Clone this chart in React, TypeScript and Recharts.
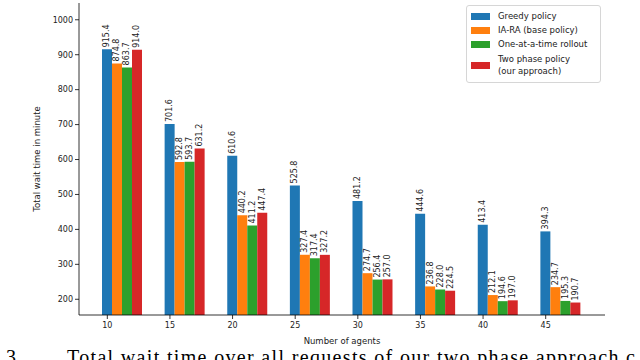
import React from 'react';
import { BarChart, Bar, XAxis, YAxis, LabelList } from 'recharts';

const agents = ['10', '15', '20', '25', '30', '35', '40', '45'];
const greedy = [915.4, 701.6, 610.6, 525.8, 481.2, 444.6, 413.4, 394.3];
const iara = [874.8, 592.8, 440.2, 327.4, 274.7, 236.8, 212.1, 234.7];
const oneAtATime = [863.7, 593.7, 411.2, 317.4, 256.4, 228.0, 194.6, 195.3];
const twoPhase = [914.0, 631.2, 447.4, 327.2, 257.0, 224.5, 197.0, 190.7];
const yTicks = [200, 300, 400, 500, 600, 700, 800, 900, 1000];

const seriesNames = ['Greedy policy', 'IA-RA (base policy)', 'One-at-a-time rollout', 'Two phase policy\n(our approach)'];
const colors = ['#1f77b4', '#ff7f0e', '#2ca02c', '#d62728'];
const keys = ['greedy', 'iara', 'one', 'two'];

const data = agents.map((a, i) => ({
  agents: a,
  greedy: greedy[i],
  iara: iara[i],
  one: oneAtATime[i],
  two: twoPhase[i],
}));

const FONT = 'DejaVu Sans, sans-serif';
const TXT = '#222';

const XTick = (props: any) => {
  const { x, y, payload } = props;
  const cx = x - 15;
  return (
    <g>
      <line x1={cx} x2={cx} y1={y - 6} y2={y - 2} stroke="#000" strokeWidth={0.8} />
      <text x={cx} y={y + 1} dy="0.71em" textAnchor="middle" fontSize={8} fontFamily={FONT} fill={TXT}>
        {payload.value}
      </text>
    </g>
  );
};

const BarLabel = (props: any) => {
  const { x, y, width, value } = props;
  const cx = x + width / 2;
  const ty = y - 2;
  return (
    <text
      x={cx}
      y={ty}
      transform={`rotate(-90 ${cx} ${ty})`}
      textAnchor="start"
      dominantBaseline="central"
      fontSize={8}
      fontFamily={FONT}
      fill={TXT}
    >
      {Number(value).toFixed(1)}
    </text>
  );
};

const LegendBox = () => (
  <div
    style={{
      position: 'absolute',
      left: 466,
      top: 5,
      border: '1px solid #d6d6d6',
      borderRadius: 3,
      background: '#fff',
      padding: '3px 5px 3px 4px',
      fontFamily: FONT,
      fontSize: 8.5,
      color: TXT,
      width: 124,
      boxSizing: 'content-box',
    }}
  >
    {seriesNames.map((n, i) => (
      <div key={n} style={{ display: 'flex', alignItems: 'center', height: i === 3 ? 28 : 14, lineHeight: '12px' }}>
        <div style={{ width: 19, height: 7, background: colors[i], marginRight: 8, flexShrink: 0 }} />
        <div style={{ whiteSpace: 'pre' }}>{n}</div>
      </div>
    ))}
  </div>
);

export default function App() {
  return (
    <div style={{ position: 'fixed', left: 0, top: 0, width: 640, height: 360, overflow: 'hidden', background: '#fff' }}>
      <BarChart
        width={640}
        height={360}
        data={data}
        margin={{ top: 3, right: 35, bottom: 0, left: 0 }}
        barSize={10}
        barGap={0}
      >
        <XAxis
          dataKey="agents"
          height={45}
          padding={{ left: 12, right: 13 }}
          tickLine={false}
          tickSize={4}
          tick={<XTick />}
          axisLine={{ stroke: '#000', strokeWidth: 0.8 }}
          label={{ value: 'Number of agents', position: 'insideBottom', offset: 16, fontSize: 8.5, fontFamily: FONT, fill: TXT }}
        />
        <XAxis xAxisId="top" dataKey="agents" orientation="top" height={0} tick={false} tickLine={false} axisLine={{ stroke: '#000', strokeWidth: 0.8 }} />
        <YAxis
          width={79}
          domain={[155, 1048]}
          ticks={yTicks}
          tickSize={4}
          allowDataOverflow
          tick={{ fontSize: 8, fontFamily: FONT, fill: TXT }}
          tickLine={{ stroke: '#000', strokeWidth: 0.8 }}
          axisLine={{ stroke: '#000', strokeWidth: 0.8 }}
          label={{ value: 'Total wait time in minute', angle: -90, position: 'insideLeft', offset: 37, fontSize: 8.5, fontFamily: FONT, fill: TXT, style: { textAnchor: 'middle' } }}
        />
        <YAxis yAxisId="right" orientation="right" width={0} domain={[155, 1048]} tick={false} tickLine={false} axisLine={{ stroke: '#000', strokeWidth: 0.8 }} />
        {keys.map((k, i) => (
          <Bar key={k} dataKey={k} name={seriesNames[i]} fill={colors[i]} isAnimationActive={false}>
            <LabelList dataKey={k} content={<BarLabel />} />
          </Bar>
        ))}
      </BarChart>
      <LegendBox />
      <svg width={640} height={360} style={{ position: 'absolute', left: 0, top: 0, pointerEvents: 'none' }}>
        <text x={21} y={364} textAnchor="end" fontFamily="Liberation Serif, serif" fontSize={20} fill="#000">Fig. 3.</text>
        <text x={67} y={364} textLength={568} lengthAdjust="spacing" fontFamily="Liberation Serif, serif" fontSize={20} fill="#000">
          Total wait time over all requests of our two phase approach c
        </text>
      </svg>
    </div>
  );
}
